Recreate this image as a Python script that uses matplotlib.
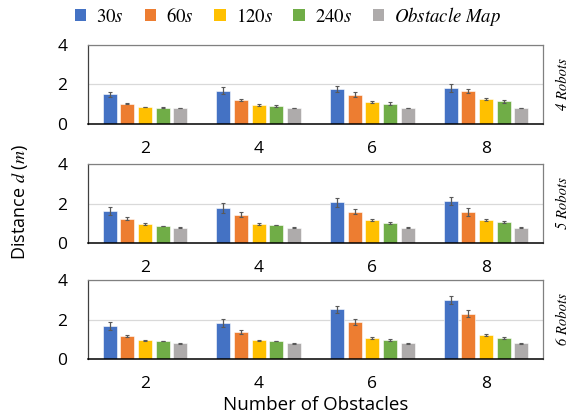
import numpy as np
import matplotlib.pyplot as plt
from matplotlib.patches import Patch

plt.rcParams['mathtext.fontset'] = 'stix'

obstacles = ["2", "4", "6", "8"]
series = ["30s", "60s", "120s", "240s", "Obstacle Map"]
legend_labels = [r"$30s$", r"$60s$", r"$120s$", r"$240s$", r"$Obstacle\ Map$"]
colors = ["#4472C4", "#ED7D31", "#FFC000", "#70AD47", "#AEABAB"]
robot_labels = ["4 Robots", "5 Robots", "6 Robots"]

# mean distance per robot count: rows = series, cols = obstacle count
dist_4 = [[1.51, 1.68, 1.76, 1.83],
          [1.03, 1.23, 1.48, 1.68],
          [0.86, 0.97, 1.11, 1.28],
          [0.82, 0.91, 1.03, 1.14],
          [0.81, 0.81, 0.81, 0.81]]
err_4 = [[0.12, 0.18, 0.15, 0.20],
         [0.04, 0.06, 0.12, 0.10],
         [0.02, 0.06, 0.06, 0.06],
         [0.02, 0.03, 0.06, 0.06],
         [0.01, 0.01, 0.01, 0.01]]

dist_5 = [[1.64, 1.77, 2.06, 2.14],
          [1.23, 1.43, 1.59, 1.59],
          [0.95, 0.95, 1.15, 1.18],
          [0.86, 0.91, 1.03, 1.08],
          [0.78, 0.78, 0.78, 0.78]]
err_5 = [[0.20, 0.26, 0.22, 0.21],
         [0.07, 0.12, 0.12, 0.20],
         [0.04, 0.05, 0.05, 0.05],
         [0.02, 0.02, 0.05, 0.05],
         [0.01, 0.01, 0.01, 0.01]]

dist_6 = [[1.69, 1.82, 2.51, 3.00],
          [1.16, 1.37, 1.87, 2.30],
          [0.95, 0.95, 1.08, 1.23],
          [0.91, 0.91, 0.96, 1.08],
          [0.79, 0.79, 0.79, 0.79]]
err_6 = [[0.20, 0.20, 0.18, 0.19],
         [0.07, 0.08, 0.14, 0.16],
         [0.03, 0.03, 0.05, 0.06],
         [0.02, 0.02, 0.03, 0.05],
         [0.01, 0.01, 0.01, 0.01]]

panels = [(dist_4, err_4), (dist_5, err_5), (dist_6, err_6)]

fig = plt.figure(figsize=(5.74, 4.19), dpi=100)
W, H = 574, 419
ax_left, ax_right = 88, 543
tops = [45, 164, 280]
bottoms = [124, 243, 359]

x = np.arange(len(obstacles))
slot = 0.155
bw = 0.123
font = "Open Sans"

for i, ((vals, errs), lab) in enumerate(zip(panels, robot_labels)):
    ax = fig.add_axes([ax_left / W, 1 - bottoms[i] / H,
                       (ax_right - ax_left) / W, (bottoms[i] - tops[i]) / H])
    for j in range(len(series)):
        ax.bar(x + (j - 2) * slot, vals[j], bw, color=colors[j],
               edgecolor="white", linewidth=0.4, zorder=2,
               yerr=errs[j], capsize=1.5,
               error_kw=dict(ecolor="#595959", elinewidth=0.9, capthick=0.8))
    ax.set_xlim(-0.5, len(obstacles) - 0.5)
    ax.set_ylim(0, 4)
    ax.set_yticks([0, 2, 4])
    ax.set_xticks(x)
    ax.set_xticklabels(obstacles)
    ax.tick_params(length=0, labelsize=12.5)
    ax.tick_params(axis="x", pad=12)
    ax.tick_params(axis="y", pad=15)
    for t in ax.get_xticklabels() + ax.get_yticklabels():
        t.set_fontfamily(font)
    ax.grid(axis="y", color="#D9D9D9", linewidth=0.9, zorder=0)
    ax.set_axisbelow(True)
    ax.spines["bottom"].set_color("black")
    ax.spines["bottom"].set_linewidth(1.1)
    ax.spines["left"].set_color("#404040")
    ax.spines["left"].set_linewidth(0.9)
    for s in ("top", "right"):
        ax.spines[s].set_color("#808080")
        ax.spines[s].set_linewidth(0.9)
    ax.text(1.044, 0.5, lab, transform=ax.transAxes, rotation=90,
            ha="center", va="center", fontsize=10.5, family="STIXGeneral",
            style="italic")

fig.text(20 / W, 1 - 202 / H, r"Distance $d$ ($m$)", rotation=90,
         ha="center", va="center", fontsize=13, family=font)
fig.text(316 / W, 1 - 405 / H, "Number of Obstacles",
         ha="center", va="center", fontsize=13.5, family=font)

handles = [Patch(facecolor=c, edgecolor="none") for c in colors]
fig.legend(handles, legend_labels, loc="center", ncol=5,
           bbox_to_anchor=(288 / W, 1 - 16 / H), frameon=False,
           fontsize=13.5, handlelength=0.6, handleheight=0.6,
           handletextpad=0.55, columnspacing=1.1)

fig.savefig("out.png", dpi=100)
